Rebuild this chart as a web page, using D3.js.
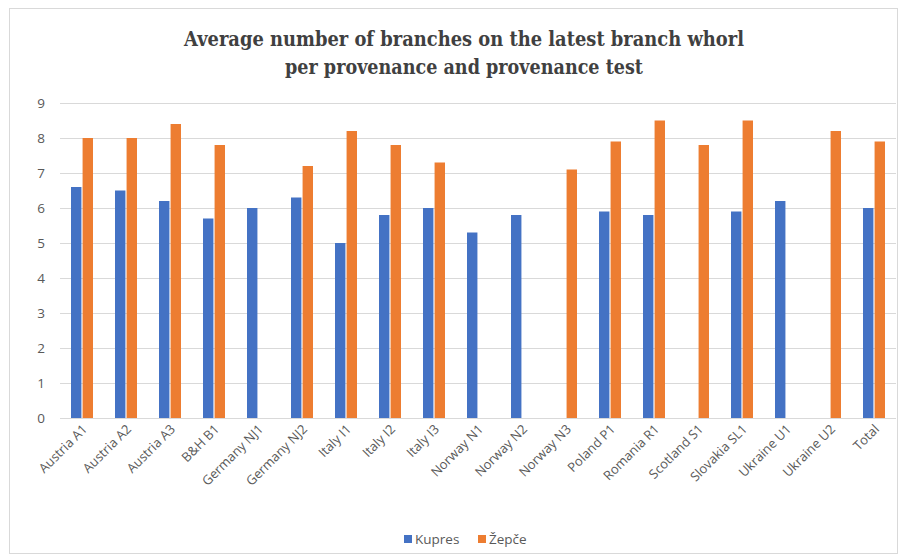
<!DOCTYPE html>
<html>
<head>
<meta charset="utf-8">
<script src="https://cdn.jsdelivr.net/npm/d3@7"></script>
<style>
  html, body { margin: 0; padding: 0; background: #ffffff; }
  svg { display: block; }
  .cat-label { transform-box: view-box; }
</style>
</head>
<body>
<div id="chart"></div>
<script>
// Provenances tested at the two trial sites
const categories = [
  "Austria A1", "Austria A2", "Austria A3", "B&H B1", "Germany NJ1", "Germany NJ2",
  "Italy I1", "Italy I2", "Italy I3", "Norway N1", "Norway N2", "Norway N3",
  "Poland P1", "Romania R1", "Scotland S1", "Slovakia SL1", "Ukraine U1", "Ukraine U2", "Total"
];
const seriesNames = ["Kupres", "Žepče"];
// Average number of branches per site (null = provenance not planted there)
const kupres = [6.6, 6.5, 6.2, 5.7, 6.0, 6.3, 5.0, 5.8, 6.0, 5.3, 5.8, null,
                5.9, 5.8, null, 5.9, 6.2, null, 6.0];
const zepce  = [8.0, 8.0, 8.4, 7.8, null, 7.2, 8.2, 7.8, 7.3, null, null, 7.1,
                7.9, 8.5, 7.8, 8.5, null, 8.2, 7.9];
const yTicks = [0, 1, 2, 3, 4, 5, 6, 7, 8, 9];
const colors = ["#4472C4", "#ED7D31"];
const titleLines = [
  "Average number of branches on the latest branch whorl",
  "per provenance and provenance test"
];

const W = 904, H = 555;
const plotLeft = 60, plotRight = 896;
const labelFont = "'Open Sans', 'Liberation Sans', sans-serif";

const svg = d3.select("#chart").append("svg")
  .attr("width", W).attr("height", H);

// chart area frame
svg.append("rect")
  .attr("x", 9.5).attr("y", 8.5)
  .attr("width", 888).attr("height", 545)
  .attr("fill", "#ffffff")
  .attr("stroke", "#d9d9d9").attr("stroke-width", 1);

const x0 = d3.scaleBand()
  .domain(categories)
  .range([plotLeft, plotRight])
  .paddingInner(0).paddingOuter(0);

const x1 = d3.scaleBand()
  .domain(seriesNames)
  .range([-11, 11])
  .paddingInner(0.1);

const y = d3.scaleLinear()
  .domain([0, 9])
  .range([418, 103]);

// horizontal gridlines
svg.append("g")
  .selectAll("line")
  .data(yTicks.filter(t => t > 0))
  .join("line")
  .attr("x1", plotLeft).attr("x2", plotRight)
  .attr("y1", d => y(d) + 0.5).attr("y2", d => y(d) + 0.5)
  .attr("stroke", "#d9d9d9").attr("stroke-width", 1);

// y axis labels
const yAxis = d3.axisLeft(y).tickValues(yTicks).tickSize(0).tickPadding(15)
  .tickFormat(d3.format("d"));
const gy = svg.append("g")
  .attr("transform", `translate(${plotLeft},0)`)
  .call(yAxis);
gy.select(".domain").remove();
gy.selectAll("text")
  .attr("fill", "#595959")
  .attr("font-family", labelFont)
  .attr("font-size", 13.5);

// bars
const data = categories.map((c, i) => ({ cat: c, values: [kupres[i], zepce[i]] }));
const groups = svg.append("g")
  .selectAll("g")
  .data(data)
  .join("g")
  .attr("transform", d => `translate(${x0(d.cat) + x0.bandwidth() / 2},0)`);

groups.selectAll("rect")
  .data(d => d.values.map((v, k) => ({ key: seriesNames[k], value: v, k })).filter(e => e.value !== null))
  .join("rect")
  .attr("x", d => x1(d.key))
  .attr("width", x1.bandwidth())
  .attr("y", d => y(d.value))
  .attr("height", d => y(0) - y(d.value))
  .attr("fill", d => colors[d.k]);

// category axis line
const xAxis = d3.axisBottom(x0).tickSize(0).tickFormat("");
const gx = svg.append("g")
  .attr("transform", `translate(0,${y(0)})`)
  .call(xAxis);
gx.select(".domain")
  .attr("stroke", "#d9d9d9").attr("d", `M${plotLeft},0.5H${plotRight}`);

// category labels slanted at 45 degrees, ending just under each group
const c45 = Math.SQRT1_2;
svg.append("g")
  .selectAll("text")
  .data(categories)
  .join("text")
  .attr("class", "cat-label")
  .attr("transform", d => `matrix(${c45},${-c45},${c45},${c45},${x0(d) + x0.bandwidth() / 2 + 6},${y(0) + 12})`)
  .style("transform", d => `translate(${x0(d) + x0.bandwidth() / 2 + 6}px, ${y(0) + 12}px) rotate(-45deg)`)
  .attr("text-anchor", "end")
  .attr("fill", "#595959")
  .attr("font-family", labelFont)
  .attr("font-size", 13)
  .text(d => d);

// title
const title = svg.append("text")
  .attr("text-anchor", "middle")
  .attr("fill", "#404040")
  .attr("font-family", "'DejaVu Serif', 'Liberation Serif', serif")
  .attr("font-weight", "bold")
  .attr("font-size", 19.5);
const titleWidths = [560, 358];
titleLines.forEach((line, i) => {
  title.append("tspan")
    .attr("x", 464)
    .attr("y", 46 + i * 28)
    .attr("textLength", titleWidths[i])
    .attr("lengthAdjust", "spacingAndGlyphs")
    .text(line);
});

// legend
const legend = svg.append("g").attr("transform", "translate(404,539)");
const legendItems = legend.selectAll("g")
  .data(seriesNames)
  .join("g")
  .attr("transform", (d, i) => `translate(${i === 0 ? 0 : 74},0)`);
legendItems.append("rect")
  .attr("x", 0).attr("y", -4)
  .attr("width", 8).attr("height", 8)
  .attr("fill", (d, i) => colors[i]);
legendItems.append("text")
  .attr("x", 11).attr("y", 0).attr("dy", "0.35em")
  .attr("fill", "#595959")
  .attr("font-family", labelFont)
  .attr("font-size", 13.5)
  .text(d => d);
</script>
</body>
</html>
